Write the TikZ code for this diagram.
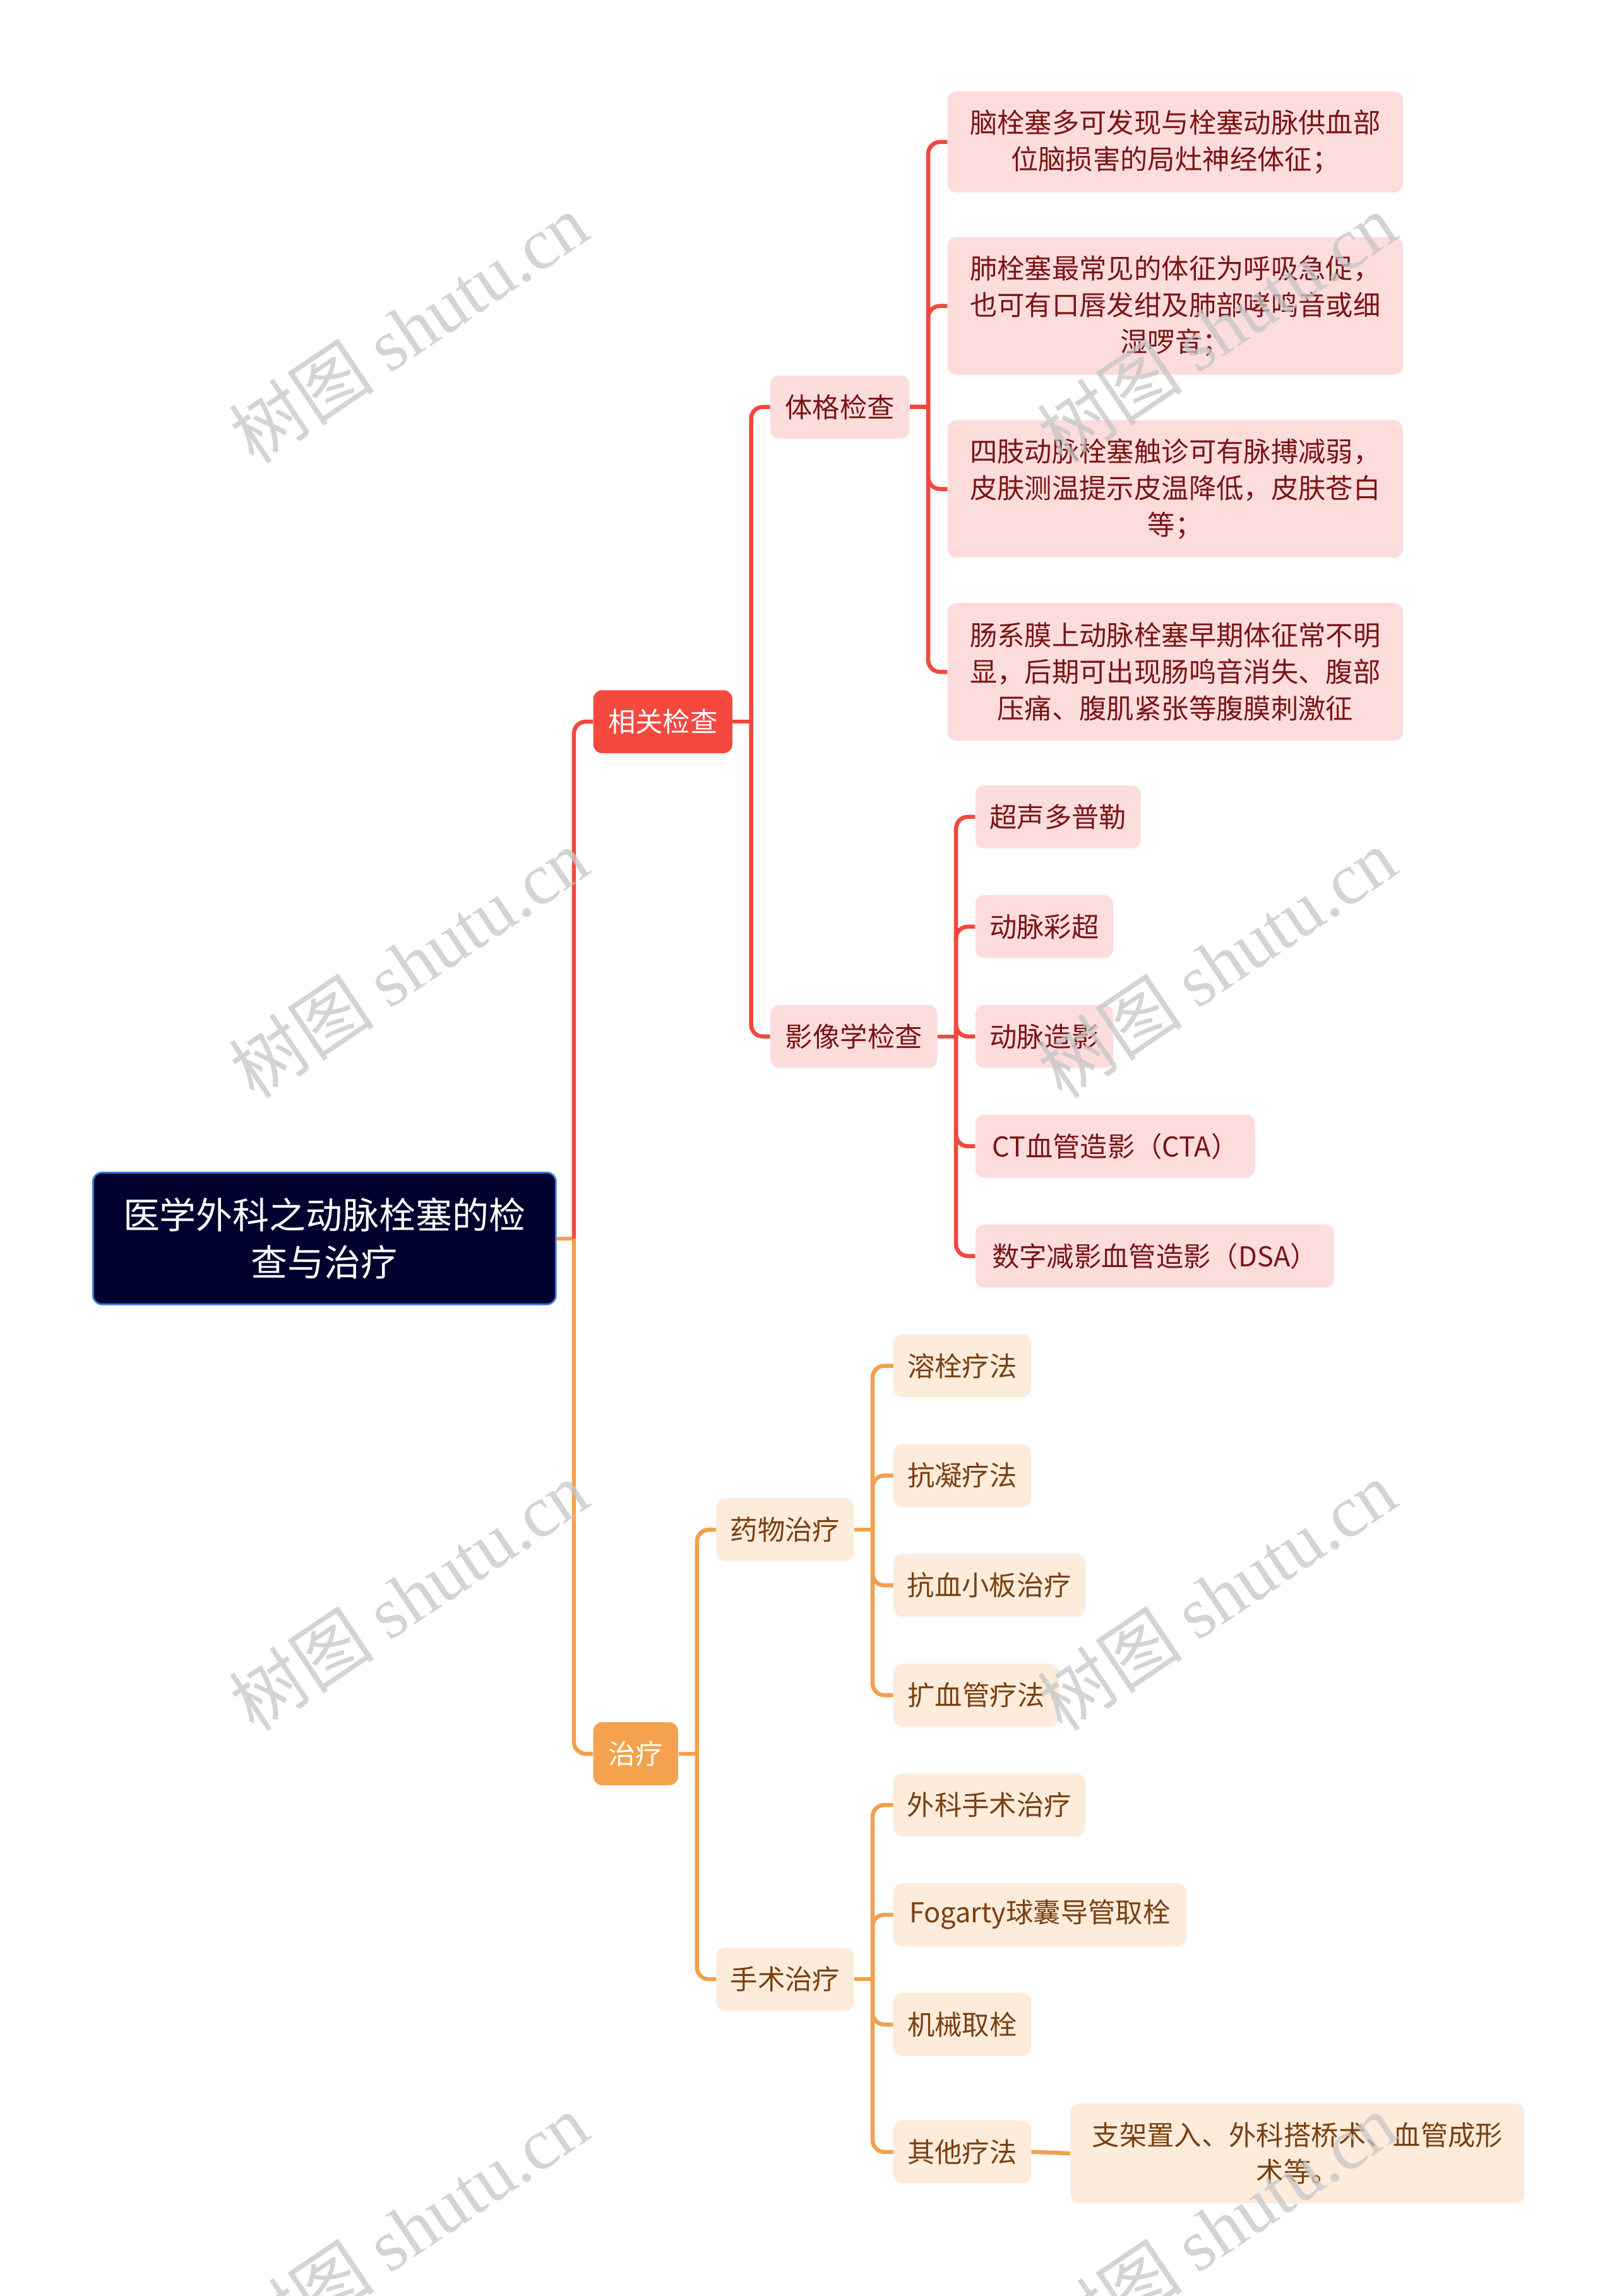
\documentclass[tikz,border=0pt]{standalone}
\usepackage{fontspec}
\setmainfont{Noto Sans CJK SC}
\newfontfamily\wmserif{Liberation Serif}
\usetikzlibrary{calc}
\definecolor{redline}{HTML}{F2473D}
\definecolor{redfill}{HTML}{F5483F}
\definecolor{pinkfill}{HTML}{FDDCDC}
\definecolor{darkred}{HTML}{7A1515}
\definecolor{orgline}{HTML}{F3A04C}
\definecolor{orgfill}{HTML}{F5A24E}
\definecolor{peachfill}{HTML}{FDEBDB}
\definecolor{brown}{HTML}{7A4010}
\definecolor{rootfill}{HTML}{00002E}
\definecolor{rootborder}{HTML}{3A78D8}
\definecolor{wmgray}{HTML}{C6C6C6}
\begin{document}
\begin{tikzpicture}[x=1pt,y=1pt,
  box/.style={rounded corners=6pt, anchor=west, align=center, inner sep=0pt,
    minimum height=43, font=\fontsize{18.7}{25}\selectfont},
  rootbox/.style={box, fill=rootfill, draw=rootborder, line width=1.2pt, text=white,
    minimum width=316, minimum height=90, font=\fontsize{25}{32}\selectfont},
  redbox/.style={box, fill=redfill, text=white},
  pinkbox/.style={box, fill=pinkfill, text=darkred},
  orgbox/.style={box, fill=orgfill, text=white},
  peachbox/.style={box, fill=peachfill, text=brown},
  redconn/.style={draw=redline, line width=2.8pt, rounded corners=8pt},
  orgconn/.style={draw=orgline, line width=2.8pt, rounded corners=8pt},
  wm/.style={text=wmgray, opacity=0.75, rotate=34, font=\fontsize{50}{50}\selectfont}
]
\useasboundingbox[fill=white] (0,0) rectangle (1104,-1568.45);

% nodes
\node[rootbox] (root) at (63,-846) {医学外科之动脉栓塞的检\\查与治疗};
\node[redbox, minimum width=95] (xg) at (405,-493) {相关检查};
\node[pinkbox, minimum width=95] (tg) at (526,-278) {体格检查};
\node[pinkbox, minimum width=114] (yx) at (526,-708) {影像学检查};
\node[pinkbox, minimum width=311, minimum height=69] (p1) at (647,-97) {脑栓塞多可发现与栓塞动脉供血部\\位脑损害的局灶神经体征；};
\node[pinkbox, minimum width=311, minimum height=94] (p2) at (647,-209) {肺栓塞最常见的体征为呼吸急促，\\也可有口唇发绀及肺部哮鸣音或细\\湿啰音；};
\node[pinkbox, minimum width=311, minimum height=94] (p3) at (647,-334) {四肢动脉栓塞触诊可有脉搏减弱，\\皮肤测温提示皮温降低，皮肤苍白\\等；};
\node[pinkbox, minimum width=311, minimum height=94] (p4) at (647,-459) {肠系膜上动脉栓塞早期体征常不明\\显，后期可出现肠鸣音消失、腹部\\压痛、腹肌紧张等腹膜刺激征};
\node[pinkbox, minimum width=113] (i1) at (666,-558) {超声多普勒};
\node[pinkbox, minimum width=94] (i2) at (666,-633) {动脉彩超};
\node[pinkbox, minimum width=94] (i3) at (666,-708) {动脉造影};
\node[pinkbox, minimum width=191] (i4) at (666,-783) {CT血管造影（CTA）};
\node[pinkbox, minimum width=245] (i5) at (666,-858) {数字减影血管造影（DSA）};

\node[orgbox, minimum width=58] (zl) at (405,-1198) {治疗};
\node[peachbox, minimum width=94] (yw) at (489,-1045) {药物治疗};
\node[peachbox, minimum width=94] (ss) at (489,-1352) {手术治疗};
\node[peachbox, minimum width=94] (d1) at (610,-933) {溶栓疗法};
\node[peachbox, minimum width=94] (d2) at (610,-1008) {抗凝疗法};
\node[peachbox, minimum width=131] (d3) at (610,-1083) {抗血小板治疗};
\node[peachbox, minimum width=113] (d4) at (610,-1158) {扩血管疗法};
\node[peachbox, minimum width=131] (s1) at (610,-1233) {外科手术治疗};
\node[peachbox, minimum width=200] (s2) at (610,-1308) {Fogarty球囊导管取栓};
\node[peachbox, minimum width=94] (s3) at (610,-1383) {机械取栓};
\node[peachbox, minimum width=94] (s4) at (610,-1470) {其他疗法};
\node[peachbox, minimum width=310, minimum height=68] (s5) at (731,-1471) {支架置入、外科搭桥术、血管成形\\术等。};

% junction coordinates
\coordinate (r0) at (392,-846);
\coordinate (t1) at (513,-493);
\coordinate (t2) at (634,-278);
\coordinate (t3) at (653,-708);
\coordinate (o1) at (476,-1198);
\coordinate (o2) at (596,-1045);
\coordinate (o3) at (596,-1352);

% connectors
\draw[orgconn] (root.east) -- (r0);
\draw[orgconn] (r0) |- (zl.west);
\draw[redconn] (r0) |- (xg.west);

\draw[redconn] (xg.east) -- (t1);
\draw[redconn] (t1) |- (tg.west);
\draw[redconn] (t1) |- (yx.west);

\draw[redconn] (tg.east) -- (t2);
\foreach \n in {p1,p2,p3,p4} \draw[redconn] (t2) |- (\n.west);

\draw[redconn] (yx.east) -- (t3);
\foreach \n in {i1,i2,i3,i4,i5} \draw[redconn] (t3) |- (\n.west);

\draw[orgconn] (zl.east) -- (o1);
\draw[orgconn] (o1) |- (yw.west);
\draw[orgconn] (o1) |- (ss.west);

\draw[orgconn] (yw.east) -- (o2);
\foreach \n in {d1,d2,d3,d4} \draw[orgconn] (o2) |- (\n.west);

\draw[orgconn] (ss.east) -- (o3);
\foreach \n in {s1,s2,s3,s4} \draw[orgconn] (o3) |- (\n.west);

\draw[orgconn] (s4.east) -- (s5.west);

% watermarks
\foreach \wx/\wy [count=\k] in {279/-224, 831/-224, 279/-658, 831/-658, 279/-1090, 831/-1090, 279/-1522, 831/-1522}
  \node[wm] (wm\k) at (\wx,\wy) {树图 {\wmserif shutu.cn}};
\end{tikzpicture}
\end{document}
